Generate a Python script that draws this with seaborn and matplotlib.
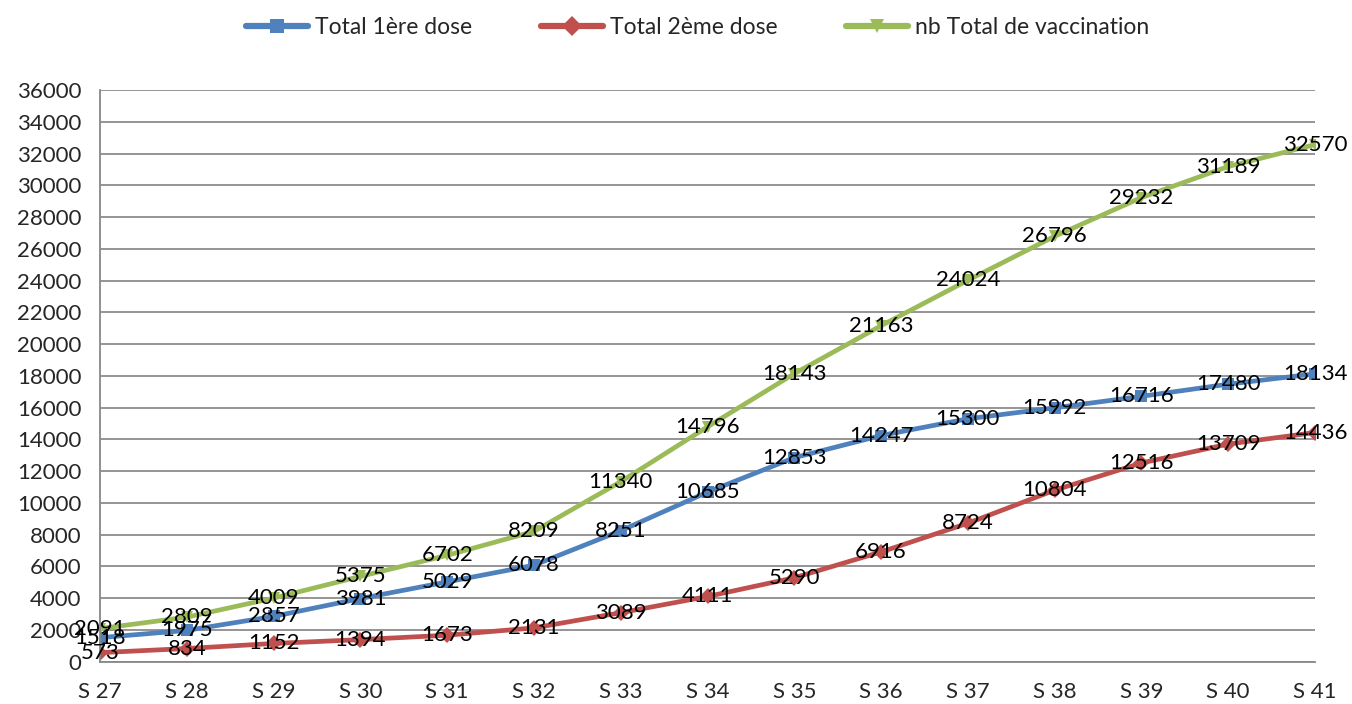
import numpy as np
import pandas as pd
import matplotlib
matplotlib.use("Agg")
import matplotlib.pyplot as plt
import seaborn as sns

weeks = ["S 27", "S 28", "S 29", "S 30", "S 31", "S 32", "S 33", "S 34",
         "S 35", "S 36", "S 37", "S 38", "S 39", "S 40", "S 41"]
dose1 = [1518, 1975, 2857, 3981, 5029, 6078, 8251, 10685, 12853, 14247,
         15300, 15992, 16716, 17480, 18134]
dose2 = [573, 834, 1152, 1394, 1673, 2131, 3089, 4111, 5290, 6916,
         8724, 10804, 12516, 13709, 14436]
total = [2091, 2809, 4009, 5375, 6702, 8209, 11340, 14796, 18143, 21163,
         24024, 26796, 29232, 31189, 32570]
series_names = ["Total 1ère dose", "Total 2ème dose", "nb Total de vaccination"]

colors = ["#4F81BD", "#C0504D", "#9BBB59"]
markers = ["s", "D", "v"]

df = pd.DataFrame({
    "pos": list(range(len(weeks))) * 3,
    "value": dose1 + dose2 + total,
    "serie": [series_names[0]] * len(weeks) + [series_names[1]] * len(weeks)
             + [series_names[2]] * len(weeks),
})

sns.set_style("white")
plt.rcParams["font.family"] = ["Lato", "DejaVu Sans"]

fig = plt.figure(figsize=(13.52, 7.04), dpi=100)
ax = fig.add_axes([0.074, 0.06, 0.8986, 0.812])

sns.lineplot(data=df, x="pos", y="value", hue="serie", style="serie",
             palette=colors, markers=markers, dashes=False, linewidth=3.4,
             markersize=8, markeredgewidth=0, ax=ax, legend=True)

# data labels centred on each point, like the Excel original
for vals in [dose1, dose2, total]:
    for i, v in enumerate(vals):
        ax.text(i, v, str(v), ha="center", va="center", fontsize=16, color="black")

ax.set_xlim(0, len(weeks) - 1)
ax.set_ylim(0, 36000)
ax.set_yticks(np.arange(0, 36001, 2000))
ax.set_xticks(range(len(weeks)))
ax.set_xticklabels(weeks)
ax.tick_params(axis="both", labelsize=16, length=8.5, width=1.3, color="#888888",
               direction="out")
ax.tick_params(axis="y", pad=5)
ax.tick_params(axis="x", pad=6)
ax.yaxis.grid(True, color="#8c8c8c", linewidth=1.3)
ax.set_axisbelow(True)
for s in ["top", "right"]:
    ax.spines[s].set_visible(False)
for s in ["left", "bottom"]:
    ax.spines[s].set_color("#888888")
    ax.spines[s].set_linewidth(1.3)
ax.set_xlabel("")
ax.set_ylabel("")

handles, labels = ax.get_legend_handles_labels()
leg = ax.legend(handles, labels, loc="center", bbox_to_anchor=(0.492, 1.11), ncol=3,
                frameon=False, fontsize=16.5, handlelength=2.7, columnspacing=3.0,
                handletextpad=0.3)
for h in leg.legend_handles:
    h.set_linewidth(4.5)
    h.set_markersize(10)

fig.savefig("out.png", dpi=100)
